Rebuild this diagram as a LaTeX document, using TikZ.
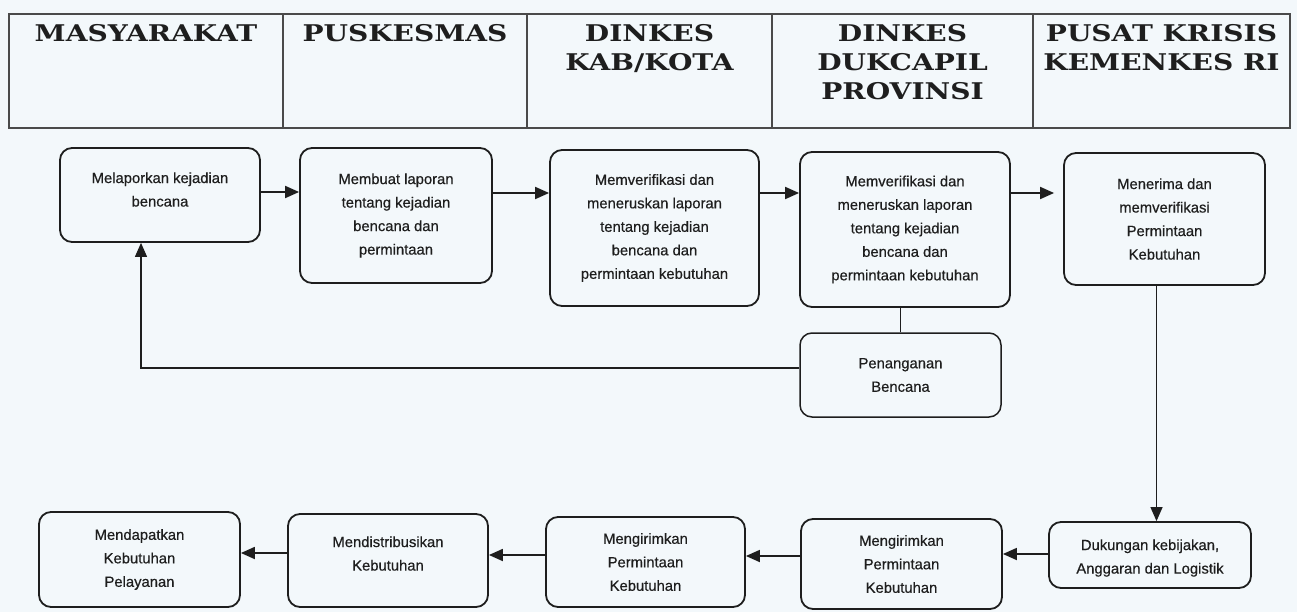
\documentclass[tikz,border=0pt]{standalone}
\usepackage{fontspec}
\usepackage{graphicx}
\setmainfont{Liberation Sans}
\newfontfamily\bodyfont{Liberation Sans}[FakeBold=0.5]
\newfontfamily\headfont{DejaVu Serif}
\newcommand\wideline[1]{\scalebox{1.22}[1]{#1}}
\usetikzlibrary{arrows.meta}
\definecolor{paper}{HTML}{F3F8FB}
\definecolor{ink}{HTML}{1E1E1E}
\definecolor{rule}{HTML}{4A4A4A}
\begin{document}
\begin{tikzpicture}[x=1pt,y=-1pt,
  box/.style={draw=ink, line width=1.8pt, rounded corners=12pt, align=center,
    font=\bodyfont\fontsize{14.8}{23.5}\selectfont, inner sep=0pt, text=ink},
  boxtext/.style={align=center, font=\bodyfont\fontsize{14.8}{23.5}\selectfont,
    inner sep=0pt, text=ink},
  flow/.style={draw=ink, line width=1.8pt, -{Triangle[length=14pt,width=12pt]}},
  thinflow/.style={draw=ink, line width=1.2pt, -{Triangle[length=14pt,width=12pt]}},
  thinline/.style={draw=ink, line width=1.2pt},
  hdr/.style={font=\headfont\bfseries\fontsize{23}{29}\selectfont, align=center,
    anchor=north, inner sep=0pt, text=ink}]
\fill[paper] (0,0) rectangle (1297,612);
\useasboundingbox (0,0) rectangle (1297,612);

% lane header table
\draw[rule, line width=1.2pt] (9,14) rectangle (1290,128);
\foreach \x in {283,527,772,1033} \draw[rule, line width=1.2pt] (\x,14) -- (\x,128);
\node[hdr] (h1) at (146,24) {\wideline{MASYARAKAT}};
\node[hdr] (h2) at (405,24) {\wideline{PUSKESMAS}};
\node[hdr] (h3) at (649.5,24) {\wideline{DINKES}\\\wideline{KAB/KOTA}};
\node[hdr] (h4) at (902.5,24) {\wideline{DINKES}\\\wideline{DUKCAPIL}\\\wideline{PROVINSI}};
\node[hdr] (h5) at (1161.5,24) {\wideline{PUSAT KRISIS}\\\wideline{KEMENKES RI}};

% upper flow
\node[box, minimum width=200pt, minimum height=94pt] (n1) at (160,195) {};
\node[boxtext] (n1t) at ([yshift=5.5pt]n1.center) {Melaporkan kejadian\\bencana};
\node[box, minimum width=192pt, minimum height=135pt] (n2) at (396,215.5)
  {Membuat laporan\\tentang kejadian\\bencana dan\\permintaan};
\node[box, minimum width=209pt, minimum height=156pt] (n3) at (654.5,228)
  {Memverifikasi dan\\meneruskan laporan\\tentang kejadian\\bencana dan\\permintaan kebutuhan};
\node[box, minimum width=210pt, minimum height=155pt] (n4) at (905,229.5)
  {Memverifikasi dan\\meneruskan laporan\\tentang kejadian\\bencana dan\\permintaan kebutuhan};
\node[box, minimum width=201pt, minimum height=132pt] (n5) at (1164.5,219)
  {Menerima dan\\memverifikasi\\Permintaan\\Kebutuhan};
\node[box, line width=1.5pt, minimum width=201pt, minimum height=84pt] (pen) at (900.5,375)
  {Penanganan\\Bencana};

% lower flow
\node[box, minimum width=201pt, minimum height=95pt] (b1) at (139.5,559.5)
  {Mendapatkan\\Kebutuhan\\Pelayanan};
\node[box, minimum width=200pt, minimum height=93pt] (b2) at (388,560.5) {};
\node[boxtext] (b2t) at ([yshift=7pt]b2.center) {Mendistribusikan\\Kebutuhan};
\node[box, minimum width=199pt, minimum height=90pt] (b3) at (645.5,562)
  {Mengirimkan\\Permintaan\\Kebutuhan};
\node[box, minimum width=201pt, minimum height=90pt] (b4) at (901.5,564)
  {Mengirimkan\\Permintaan\\Kebutuhan};
\node[box, minimum width=202pt, minimum height=66pt] (b5) at (1150,555) {};
\node[boxtext] (b5t) at ([yshift=-3pt]b5.center) {Dukungan kebijakan,\\Anggaran dan Logistik};

% connectors of the upper flow
\draw[flow] (n1.east |- 0,192) -- (n2.west |- 0,192);
\draw[flow] (n2.east |- 0,193) -- (n3.west |- 0,193);
\draw[flow] (n3.east |- 0,193) -- (n4.west |- 0,193);
\draw[flow, shorten >=9pt] (n4.east |- 0,193) -- (n5.west |- 0,193);

% feedback from disaster handling back to the community
\coordinate (fb) at (141,368);
\draw[thinline] (pen.north) -- (pen.north |- n4.south);
\draw[thinflow] (pen.west |- fb) -- (fb) -- (fb |- n1.south);

% down to support, then the lower flow
\draw[thinflow] ([xshift=-8pt]n5.south) -- ([xshift=-8pt]n5.south |- b5.north);
\draw[flow] (b5.west |- 0,554) -- (b4.east |- 0,554);
\draw[flow] (b4.west |- 0,556) -- (b3.east |- 0,556);
\draw[flow] (b3.west |- 0,555) -- (b2.east |- 0,555);
\draw[flow] (b2.west |- 0,553) -- (b1.east |- 0,553);
\end{tikzpicture}
\end{document}
